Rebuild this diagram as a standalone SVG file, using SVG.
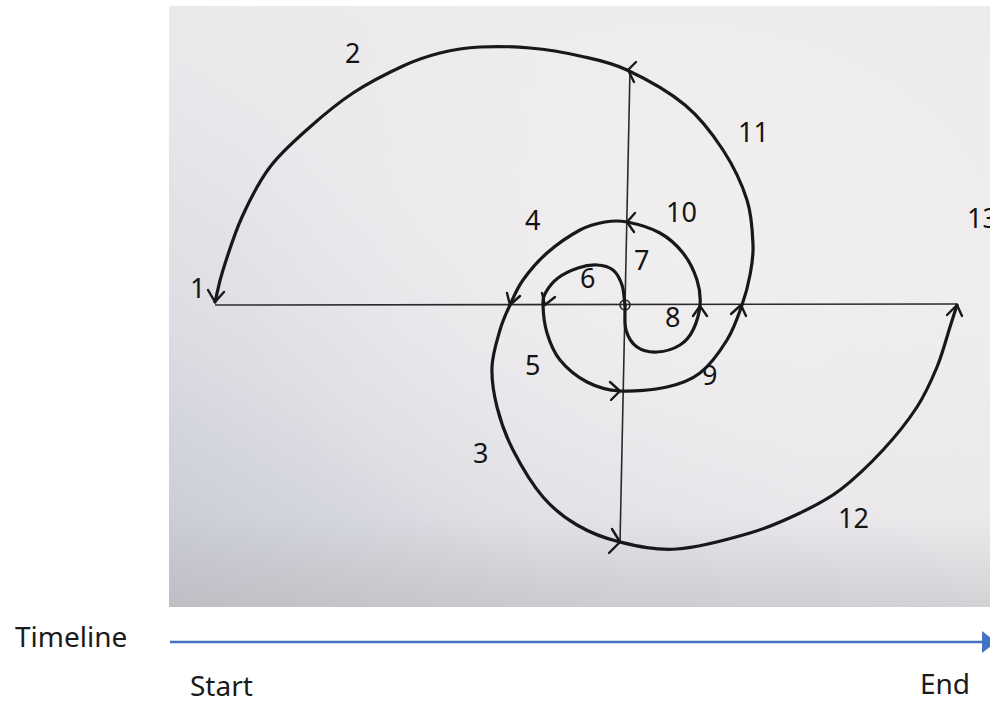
<svg xmlns="http://www.w3.org/2000/svg" width="990" height="706" viewBox="0 0 990 706">
<defs>
<linearGradient id="bg1" x1="0" y1="1" x2="0.65" y2="0.25">
<stop offset="0" stop-color="#c4c6cf"/>
<stop offset="0.35" stop-color="#dcdde3"/>
<stop offset="0.7" stop-color="#eae8eb"/>
<stop offset="1" stop-color="#eeebed"/>
</linearGradient>
<radialGradient id="bg2" cx="0.62" cy="0.42" r="0.55">
<stop offset="0" stop-color="#f3f0f1" stop-opacity="0.7"/>
<stop offset="1" stop-color="#f3f0f1" stop-opacity="0"/>
</radialGradient>
<linearGradient id="bg3" x1="0" y1="0" x2="0" y2="1">
<stop offset="0.85" stop-color="#b6b2b6" stop-opacity="0"/>
<stop offset="1" stop-color="#b6b2b6" stop-opacity="0.4"/>
</linearGradient>
<style>
.curve{fill:none;stroke:#18181a;stroke-width:3.2;stroke-linecap:round;stroke-linejoin:round}
.axis{fill:none;stroke:#2a2a2c;stroke-width:1.6}
.head{fill:none;stroke:#18181a;stroke-width:2.4;stroke-linecap:round;stroke-linejoin:round}
.lbl{font-family:"Noto Sans","Open Sans","Liberation Sans",sans-serif;font-size:27px;fill:#141414}
.tl{font-family:"Noto Sans","Open Sans","Liberation Sans",sans-serif;font-size:28px;fill:#1a1a1a}
</style>
</defs>
<rect x="0" y="0" width="990" height="706" fill="#ffffff"/>
<g id="photo">
<rect x="169" y="6" width="821" height="601" fill="url(#bg1)"/>
<rect x="169" y="6" width="821" height="601" fill="url(#bg2)"/>
<rect x="169" y="6" width="821" height="601" fill="url(#bg3)"/>
</g>
<g id="axes">
<path class="axis" d="M215,305 L957,304"/>
<path class="axis" d="M630,70 L620,543"/>
<circle cx="625" cy="305" r="5" fill="none" stroke="#2a2a2c" stroke-width="1.6"/>
</g>
<g id="connectors">
<path id="spiral-outer" class="curve" d="M625,305 C624,298.3 624,290.8 622,285 C620,279.2 617.2,273.3 613,270 C608.8,266.7 602.8,265.3 597,265 C591.2,264.7 584.5,265.8 578,268 C571.5,270.2 563.3,274 558,278 C552.7,282 548.5,287.5 546,292 C543.5,296.5 542.8,298.2 543,305 C543.2,311.8 544.2,323.8 547,333 C549.8,342.2 553.3,351.8 560,360 C566.7,368.2 577,376.8 587,382 C597,387.2 606.7,390.2 620,391 C633.3,391.8 653.7,390 667,387 C680.3,384 690,380.8 700,373 C710,365.2 720,351.3 727,340 C734,328.7 738.2,315.8 742,305 C745.8,294.2 748.2,285 750,275 C751.8,265 753.5,257.5 753,245 C752.5,232.5 752,215.8 747,200 C742,184.2 733.3,165.8 723,150 C712.7,134.2 701,118.3 685,105 C669,91.7 644.5,78.2 627,70 C609.5,61.8 596.2,59.7 580,56 C563.8,52.3 546.7,49.5 530,48 C513.3,46.5 495,46.2 480,47 C465,47.8 452.8,49.8 440,53 C427.2,56.2 417.5,59.3 403,66 C388.5,72.7 368.5,82.8 353,93 C337.5,103.2 323.8,114.7 310,127 C296.2,139.3 281.3,152 270,167 C258.7,182 249.8,199.8 242,217 C234.2,234.2 227.5,255.8 223,270 C218.5,284.2 217.7,291.3 215,302"/>
<path id="spiral-inner" class="curve" d="M625,305 C625.3,313.3 624,323 626,330 C628,337 631.8,343.3 637,347 C642.2,350.7 649.8,352.3 657,352 C664.2,351.7 674,348.7 680,345 C686,341.3 689.7,336.7 693,330 C696.3,323.3 699.3,313.3 700,305 C700.7,296.7 699.8,288.7 697,280 C694.2,271.3 689.2,260.8 683,253 C676.8,245.2 669.3,238.2 660,233 C650.7,227.8 636.2,223.8 627,222 C617.8,220.2 612.8,220.7 605,222 C597.2,223.3 589.7,224.8 580,230 C570.3,235.2 556.5,244.7 547,253 C537.5,261.3 529.2,271.3 523,280 C516.8,288.7 513.8,296.7 510,305 C506.2,313.3 503,319.7 500,330 C497,340.3 492.5,354.2 492,367 C491.5,379.8 493.5,393.2 497,407 C500.5,420.8 505.3,435 513,450 C520.7,465 532.3,484.5 543,497 C553.7,509.5 564.2,517.5 577,525 C589.8,532.5 603.3,538 620,542 C636.7,546 655.3,550.5 677,549 C698.7,547.5 729.5,539 750,533 C770.5,527 785,520.2 800,513 C815,505.8 826.2,500.5 840,490 C853.8,479.5 870.2,463.8 883,450 C895.8,436.2 908,420.8 917,407 C926,393.2 931.5,380.3 937,367 C942.5,353.7 946.7,337.3 950,327 C953.3,316.7 954.7,312.3 957,305"/>
<g id="arrowheads">
<path class="head" d="M208,290 L215,302 L224,292"/>
<path class="head" d="M636,62 L628,70 L634,82"/>
<path class="head" d="M635,213 L627,222 L634,232"/>
<path class="head" d="M507,293 L510,305 L520,296"/>
<path class="head" d="M542,293 L545,305 L555,297"/>
<path class="head" d="M610,382 L620,391 L611,400"/>
<path class="head" d="M612,529 L620,542 L609,553"/>
<path class="head" d="M693,316 L700,306 L707,316"/>
<path class="head" d="M731,314 L741,305 L746,316"/>
<path class="head" d="M947,315 L957,305 L962,316"/>
</g>
</g>
<g id="labels">
<text class="lbl" x="190" y="298">1</text>
<text class="lbl" x="345" y="63">2</text>
<text class="lbl" x="473" y="463">3</text>
<text class="lbl" x="525" y="230">4</text>
<text class="lbl" x="525" y="375">5</text>
<text class="lbl" x="580" y="288">6</text>
<text class="lbl" x="634" y="270">7</text>
<text class="lbl" x="665" y="327">8</text>
<text class="lbl" x="702" y="385">9</text>
<text class="lbl" x="666" y="222">10</text>
<text class="lbl" x="738" y="142">11</text>
<text class="lbl" x="838" y="528">12</text>
<text class="lbl" x="967" y="228">13</text>
</g>
<g id="timeline">
<line x1="170" y1="642" x2="984" y2="642" stroke="#4472c4" stroke-width="2.5"/>
<polygon points="982,631 996,642 982,653" fill="#4472c4"/>
<text class="tl" x="15" y="647">Timeline</text>
<text class="tl" x="190" y="696">Start</text>
<text class="tl" x="920" y="694">End</text>
</g>
</svg>
